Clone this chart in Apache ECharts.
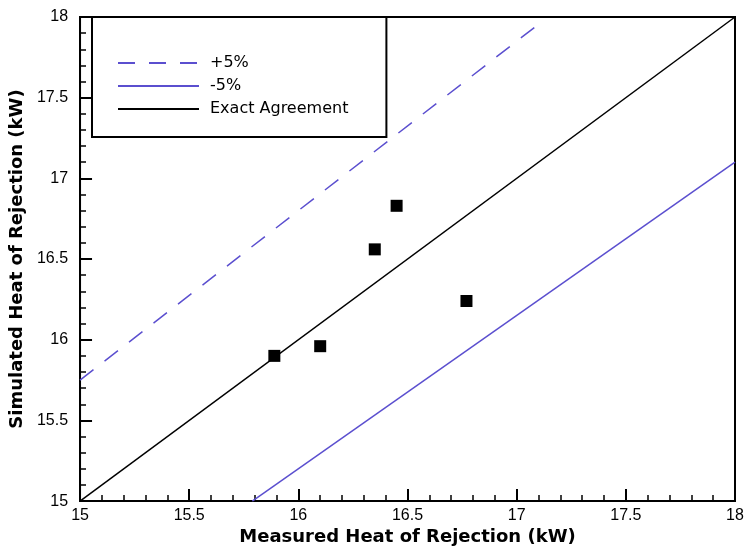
<!DOCTYPE html>
<html><head><meta charset="utf-8">
<script src="https://cdn.jsdelivr.net/npm/echarts@6/dist/echarts.min.js"></script>
<style>html,body{margin:0;padding:0;background:#fff}#c{width:747px;height:551px}</style>
</head><body><div id="c"></div>
<script>
var measured = [15.89, 16.10, 16.35, 16.45, 16.77];
var simulated = [15.90, 15.96, 16.56, 16.83, 16.24];
var plus5 = [[15, 15.75], [17.1, 17.955]];
var minus5 = [[15.789, 15], [18, 17.1]];
var exact = [[15, 15], [18, 18]];
var xTitle = 'Measured Heat of Rejection (kW)';
var yTitle = 'Simulated Heat of Rejection (kW)';

var chart = echarts.init(document.getElementById('c'));
var font = '"Liberation Sans", Arial, sans-serif';
var titleFont = '"DejaVu Sans", sans-serif';
function axis(name, gap, margin) {
  return {
    type: 'value', min: 15, max: 18, interval: 0.5,
    name: name, nameLocation: 'middle', nameGap: gap,
    nameTextStyle: {fontFamily: titleFont, fontWeight: 'bold', fontSize: 18, color: '#000'},
    axisLine: {show: true, lineStyle: {color: '#000', width: 2}},
    axisTick: {show: true, inside: true, length: 12, lineStyle: {color: '#000', width: 2}},
    minorTick: {show: true, splitNumber: 5, length: 6, lineStyle: {color: '#000', width: 1.5}},
    splitLine: {show: false},
    axisLabel: {fontFamily: font, fontSize: 16, color: '#000', margin: margin,
      formatter: function (v) { return String(v); }}
  };
}
var scatterData = measured.map(function (m, i) { return [m, simulated[i]]; });
chart.setOption({
  animation: false,
  grid: {left: 80, right: 12, top: 17, bottom: 49, show: true, borderColor: '#000', borderWidth: 2},
  xAxis: axis(xTitle, 26, 6),
  yAxis: axis(yTitle, 51, 12),
  legend: {
    data: ['+5%', '-5%', 'Exact Agreement'],
    orient: 'vertical', left: 92, top: 17,
    padding: [38, 38, 20, 25],
    itemWidth: 81, itemHeight: 14, itemGap: 7,
    itemStyle: {opacity: 0},
    backgroundColor: '#fff', borderColor: '#000', borderWidth: 2,
    textStyle: {fontFamily: titleFont, fontSize: 16, color: '#000', padding: [0, 0, 0, 6]}
  },
  series: [
    {name: '+5%', type: 'line', data: plus5, symbol: 'none',
      lineStyle: {color: '#5b4fcf', width: 1.5, type: [17, 14]}, itemStyle: {color: '#5b4fcf'}},
    {name: '-5%', type: 'line', data: minus5, symbol: 'none',
      lineStyle: {color: '#5b4fcf', width: 1.5}, itemStyle: {color: '#5b4fcf'}},
    {name: 'Exact Agreement', type: 'line', data: exact, symbol: 'none',
      lineStyle: {color: '#000', width: 1.5}, itemStyle: {color: '#000'}},
    {name: 'data', type: 'scatter', data: scatterData, symbol: 'rect', symbolSize: 12,
      itemStyle: {color: '#000', opacity: 1}}
  ]
});
</script></body></html>
